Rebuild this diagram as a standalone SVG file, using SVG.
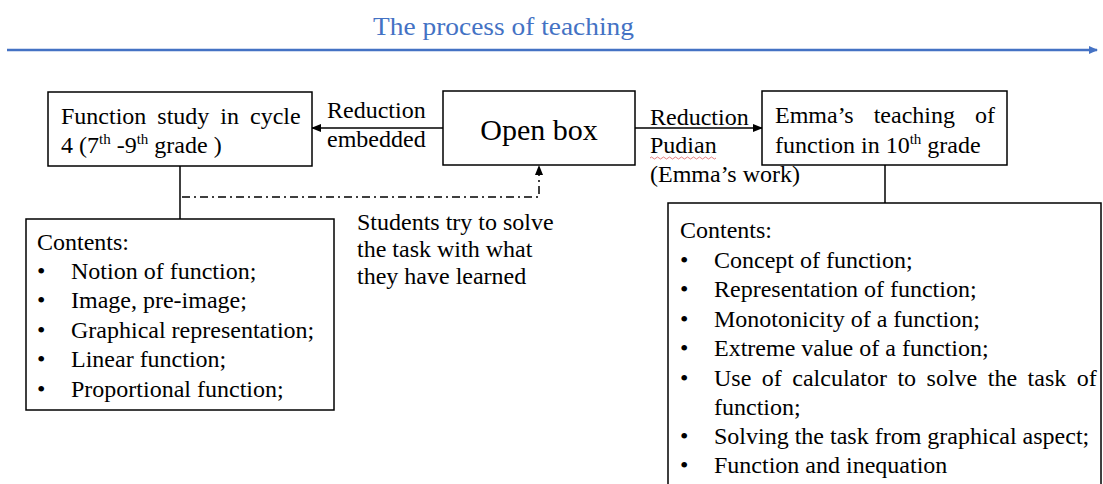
<svg xmlns="http://www.w3.org/2000/svg" width="1103" height="484" viewBox="0 0 1103 484">
<defs>
<marker id="ah" markerWidth="10" markerHeight="8" refX="9" refY="4" orient="auto" markerUnits="userSpaceOnUse">
<path d="M0,0 L10,4 L0,8 z" fill="#000"/>
</marker>
<marker id="bh" markerWidth="9" markerHeight="8" refX="8" refY="4" orient="auto" markerUnits="userSpaceOnUse">
<path d="M0,0 L9,4 L0,8 z" fill="#4472C4"/>
</marker>
</defs>
<g id="timeline">
<text font-family="Liberation Serif" font-size="26" x="373" y="35" fill="#4472C4" textLength="261" lengthAdjust="spacingAndGlyphs">The process of teaching</text>
<line x1="7" y1="50" x2="1097" y2="50" stroke="#4472C4" stroke-width="2.5" marker-end="url(#bh)"/>
</g>
<g id="connectors" stroke="#000" stroke-width="1.5" fill="none">
<line x1="443" y1="128" x2="312" y2="128" marker-end="url(#ah)"/>
<line x1="635" y1="128" x2="762" y2="128" marker-end="url(#ah)"/>
<line x1="180" y1="166" x2="180" y2="219"/>
<line x1="885" y1="165" x2="885" y2="203"/>
<polyline points="182,197 539,197 539,166" stroke-dasharray="8,4,2,4" marker-end="url(#ah)"/>
</g>
<g id="node-cycle4">
<rect x="48" y="92" width="264" height="74" fill="#fff" stroke="#000" stroke-width="1.5"/>
<text font-family="Liberation Serif" font-size="24" x="61" y="124" word-spacing="5">Function study in cycle</text>
<text font-family="Liberation Serif" font-size="24" x="61" y="153">4 (7<tspan font-size="15" dy="-9">th</tspan><tspan dy="9"> -9</tspan><tspan font-size="15" dy="-9">th</tspan><tspan dy="9"> grade )</tspan></text>
</g>
<g id="node-openbox">
<rect x="443" y="91" width="192" height="74" fill="#fff" stroke="#000" stroke-width="1.5"/>
<text font-family="Liberation Serif" font-size="30" x="539" y="140" text-anchor="middle">Open box</text>
</g>
<g id="node-emma">
<rect x="762" y="91" width="245" height="74" fill="#fff" stroke="#000" stroke-width="1.5"/>
<text font-family="Liberation Serif" font-size="24" x="775" y="123" word-spacing="14">Emma’s teaching of</text>
<text font-family="Liberation Serif" font-size="24" x="775" y="153">function in 10<tspan font-size="15" dy="-9">th</tspan><tspan dy="9">  grade</tspan></text>
</g>
<g id="label-embedded">
<text font-family="Liberation Serif" font-size="24" x="327" y="118">Reduction</text>
<text font-family="Liberation Serif" font-size="24" x="327" y="147">embedded</text>
</g>
<g id="label-pudian">
<text font-family="Liberation Serif" font-size="24" x="650" y="125">Reduction</text>
<text font-family="Liberation Serif" font-size="24" x="650" y="153">Pudian</text>
<path d="M650,158 q1.5,-2 3,0 t3,0 t3,0 t3,0 t3,0 t3,0 t3,0 t3,0 t3,0 t3,0 t3,0 t3,0 t3,0 t3,0 t3,0 t3,0 t3,0 t3,0 t3,0 t3,0 t3,0 t3,0" fill="none" stroke="#e06060" stroke-width="0.8"/>
<text font-family="Liberation Serif" font-size="24" x="650" y="182">(Emma’s work)</text>
</g>
<g id="label-students">
<text font-family="Liberation Serif" font-size="24" x="357" y="230">Students try to solve</text>
<text font-family="Liberation Serif" font-size="24" x="357" y="257">the task with what</text>
<text font-family="Liberation Serif" font-size="24" x="357" y="284">they have learned</text>
</g>
<g id="node-contents-left">
<rect x="26" y="219" width="308" height="191" fill="#fff" stroke="#000" stroke-width="1.5"/>
<text font-family="Liberation Serif" font-size="24" x="37" y="250">Contents:</text>
<text font-family="Liberation Serif" font-size="24" x="37" y="279">•</text><text font-family="Liberation Serif" font-size="24" x="71" y="279">Notion of function;</text>
<text font-family="Liberation Serif" font-size="24" x="37" y="308">•</text><text font-family="Liberation Serif" font-size="24" x="71" y="308">Image, pre-image;</text>
<text font-family="Liberation Serif" font-size="24" x="37" y="338">•</text><text font-family="Liberation Serif" font-size="24" x="71" y="338">Graphical representation;</text>
<text font-family="Liberation Serif" font-size="24" x="37" y="367">•</text><text font-family="Liberation Serif" font-size="24" x="71" y="367">Linear function;</text>
<text font-family="Liberation Serif" font-size="24" x="37" y="397">•</text><text font-family="Liberation Serif" font-size="24" x="71" y="397">Proportional function;</text>
</g>
<g id="node-contents-right">
<rect x="668" y="203" width="433" height="290" fill="#fff" stroke="#000" stroke-width="1.5"/>
<text font-family="Liberation Serif" font-size="24" x="680" y="238">Contents:</text>
<text font-family="Liberation Serif" font-size="24" x="680" y="268">•</text><text font-family="Liberation Serif" font-size="24" x="714" y="268">Concept of function;</text>
<text font-family="Liberation Serif" font-size="24" x="680" y="297">•</text><text font-family="Liberation Serif" font-size="24" x="714" y="297">Representation of function;</text>
<text font-family="Liberation Serif" font-size="24" x="680" y="327">•</text><text font-family="Liberation Serif" font-size="24" x="714" y="327">Monotonicity of a function;</text>
<text font-family="Liberation Serif" font-size="24" x="680" y="356">•</text><text font-family="Liberation Serif" font-size="24" x="714" y="356">Extreme value of a function;</text>
<text font-family="Liberation Serif" font-size="24" x="680" y="386">•</text><text font-family="Liberation Serif" font-size="24" x="714" y="386" word-spacing="4.5">Use of calculator to solve the task of</text>
<text font-family="Liberation Serif" font-size="24" x="714" y="415">function;</text>
<text font-family="Liberation Serif" font-size="24" x="680" y="444">•</text><text font-family="Liberation Serif" font-size="24" x="714" y="444">Solving the task from graphical aspect;</text>
<text font-family="Liberation Serif" font-size="24" x="680" y="473">•</text><text font-family="Liberation Serif" font-size="24" x="714" y="473">Function and inequation</text>
</g>
</svg>
